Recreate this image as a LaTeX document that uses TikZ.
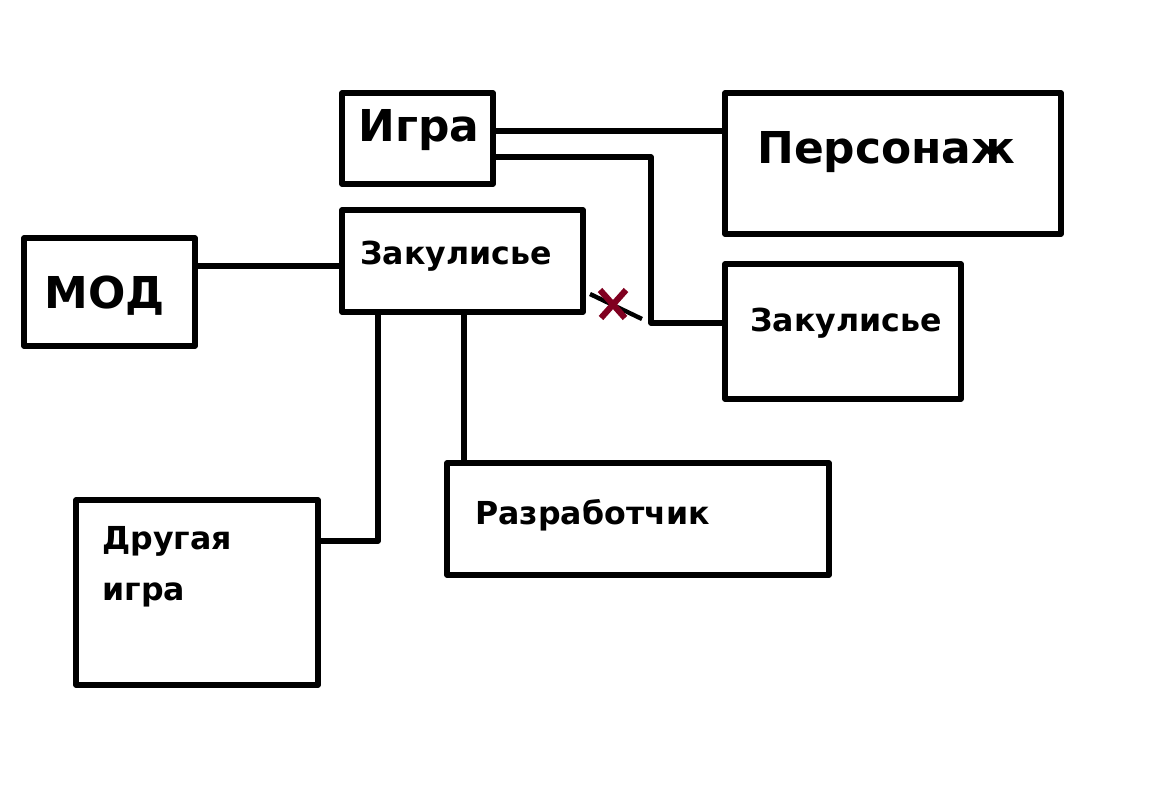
\documentclass[tikz,border=0pt]{standalone}
\usepackage{fontspec}
\setmainfont{DejaVu Sans}
\usetikzlibrary{calc}
\definecolor{crossred}{RGB}{128,0,32}
\tikzset{box/.style={draw,line width=3pt}}
\tikzset{wire/.style={line width=3pt}}
\tikzset{l/.style={font=\bfseries\fontsize{25}{29}\selectfont,inner sep=0pt}}
\tikzset{m/.style={font=\bfseries\fontsize{18}{29}\selectfont,align=left,inner sep=0pt}}
\begin{document}
\begin{tikzpicture}[x=0.02cm,y=-0.02cm,line join=round]
  \useasboundingbox (0,0) rectangle (1152,810);
  % boxes
  \draw[box] (342,93) rectangle (493,184);
  \draw[box] (725,93) rectangle (1061,234);
  \draw[box] (342,210) rectangle (583,312);
  \draw[box] (24,238) rectangle (195,346);
  \draw[box] (725,264) rectangle (961,399);
  \draw[box] (76,500) rectangle (318,685);
  \draw[box] (447,463) rectangle (829,575);
  % labels
  \node[l,anchor=west] (igraT) at (358,130) {Игра};
  \node[l,anchor=west] (persT) at (757,152) {Персонаж};
  \node[l,anchor=west] (modT) at (44,296) {МОД};
  \node[m,anchor=west] (zak1T) at (360,256) {Закулисье};
  \node[m,anchor=west] (zak2T) at (750,323) {Закулисье};
  \node[m,anchor=west] (drugT) at (102,567) {Другая\\игра};
  \node[m,anchor=west] (razrT) at (475,515) {Разработчик};
  % connectors
  \coordinate (igraR1) at (493,131);
  \coordinate (persL) at (725,131);
  \coordinate (igraR2) at (493,157);
  \coordinate (zak2L) at (725,323);
  \coordinate (modR) at (195,266);
  \coordinate (zak1L) at (342,266);
  \coordinate (zak1B1) at (378,312);
  \coordinate (drugR) at (318,541);
  \coordinate (zak1B2) at (464,312);
  \coordinate (razrTop) at (464,463);
  \draw[wire] (igraR1) -- (persL);
  \draw[wire] (igraR2) -| (651,323) -- (zak2L);
  \draw[wire] (modR) -- (zak1L);
  \draw[wire] (zak1B1) |- (drugR);
  \draw[wire] (zak1B2) -- (razrTop);
  % broken link
  \draw[line width=2.5pt] (590,294) -- (642,319);
  \draw[crossred,line width=3.5pt] (600,290) -- (625,318) (626,290) -- (601,318);
\end{tikzpicture}
\end{document}
